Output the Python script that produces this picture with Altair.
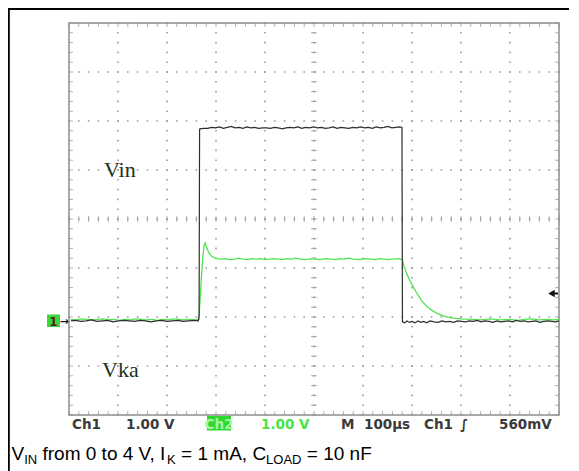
import altair as alt
import pandas as pd

# ---------------- data (time in µs, 100 µs/div; voltage in V, 1 V/div) ----------------
vin_t = [4, 14, 24, 35, 46, 57, 68, 79, 90, 101,
         112, 123, 134, 145, 156, 167, 178, 189, 200, 211,
         222, 233, 244, 255, 264, 265.5,
         266.5, 267, 275, 283, 291, 299, 307, 315, 323, 331, 339,
         347, 355, 363, 371, 379, 387, 395, 403, 411, 419,
         427, 435, 443, 451, 459, 467, 475, 483, 491, 499,
         507, 515, 523, 531, 539, 547, 555, 563, 571, 579,
         587, 595, 603, 611, 619, 627, 635, 643, 651, 659,
         667, 675, 679.5,
         680.5, 685, 690, 695, 700, 706, 712, 718, 724, 730,
         737, 745, 753, 761, 769, 777, 785, 793, 801, 809,
         817, 825, 833, 841, 849, 857, 865, 873, 881, 889,
         897, 905, 913, 921, 929, 937, 945, 953, 961, 969,
         977, 985, 993, 1000]
vin_v = [0.00, 0.01, -0.01, 0.00, 0.02, -0.01, 0.00, 0.01, -0.02, 0.00,
         0.01, 0.00, -0.01, 0.01, 0.00, -0.02, 0.00, 0.01, -0.01, 0.00,
         0.01, -0.01, 0.00, 0.01, 0.00, 0.10,
         3.90, 3.92, 3.93, 3.93, 3.95, 3.94, 3.96, 3.93, 3.95, 3.97, 3.94,
         3.95, 3.93, 3.96, 3.94, 3.95, 3.93, 3.94, 3.94, 3.93, 3.95,
         3.94, 3.92, 3.94, 3.95, 3.94, 3.96, 3.93, 3.95, 3.94, 3.96,
         3.94, 3.95, 3.93, 3.94, 3.96, 3.93, 3.95, 3.94, 3.93, 3.95,
         3.94, 3.96, 3.94, 3.95, 3.93, 3.96, 3.94, 3.95, 3.97, 3.94,
         3.95, 3.96, 3.95,
         -0.02, -0.04, 0.00, -0.03, -0.01, -0.04, 0.00, -0.03, -0.01, -0.04,
         0.00, -0.02, -0.03, 0.00, -0.02, -0.01, -0.03, 0.00, -0.01, -0.02,
         0.00, -0.01, 0.01, -0.02, 0.00, -0.01, -0.03, 0.00, -0.02, -0.01,
         0.00, -0.02, 0.01, -0.01, 0.00, -0.02, -0.01, 0.00, -0.03, -0.01,
         0.00, -0.01, -0.02, 0.00]

vka_t = [4, 15, 26, 37, 48, 59, 70, 81, 92, 103,
         114, 125, 136, 147, 158, 169, 180, 191, 202, 213,
         224, 235, 246, 257, 265,
         267, 270, 273, 276, 278, 281, 285, 290, 296, 302,
         310, 319, 328, 337, 346, 355, 364, 373, 382, 391,
         400, 409, 418, 427, 436, 445, 454, 463, 472, 481,
         490, 499, 508, 517, 526, 535, 544, 553, 562, 571,
         580, 589, 598, 607, 616, 625, 634, 643, 652, 661,
         670, 677,
         680, 684, 690, 697, 704, 712, 720, 730, 740, 752,
         765, 780, 800, 820, 840, 860, 880, 900, 915, 930,
         945, 960, 975, 990, 1000]
vka_v = [0.03, 0.02, 0.04, 0.03, 0.02, 0.03, 0.04, 0.02, 0.03, 0.01,
         0.03, 0.02, 0.04, 0.03, 0.02, 0.03, 0.01, 0.03, 0.02, 0.04,
         0.03, 0.02, 0.03, 0.02, 0.03,
         0.35, 0.85, 1.30, 1.55, 1.59, 1.50, 1.40, 1.33, 1.29, 1.27,
         1.26, 1.27, 1.25, 1.26, 1.28, 1.26, 1.25, 1.27, 1.26, 1.27,
         1.25, 1.26, 1.27, 1.26, 1.25, 1.27, 1.26, 1.28, 1.26, 1.25,
         1.26, 1.27, 1.25, 1.26, 1.27, 1.26, 1.25, 1.27, 1.26, 1.28,
         1.26, 1.25, 1.26, 1.27, 1.26, 1.25, 1.27, 1.26, 1.25, 1.26,
         1.27, 1.26,
         1.25, 1.10, 0.95, 0.80, 0.67, 0.53, 0.41, 0.30, 0.22, 0.15,
         0.10, 0.06, 0.04, 0.03, 0.02, 0.04, 0.02, 0.03, 0.01, 0.03,
         0.04, 0.02, 0.03, 0.02, 0.03]

# scope graticule: 10 x 8 divisions
x_domain = [0, 1000]
y_domain = [-1.92, 6.08]
x_grid = [100, 200, 300, 400, 500, 600, 700, 800, 900]
y_grid = [-0.92, 0.08, 1.08, 2.08, 3.08, 4.08, 5.08]
x_minor = list(range(0, 1001, 20))
y_minor = [round(-1.92 + 0.2 * k, 2) for k in range(41)]
x_center = 500
y_center = 2.08
trigger_level = 0.56

vin_df = pd.DataFrame({"t": vin_t, "v": vin_v})
vka_df = pd.DataFrame({"t": vka_t, "v": vka_v})
xg_df = pd.DataFrame({"t": x_grid})
yg_df = pd.DataFrame({"v": y_grid})
xm_df = pd.DataFrame({"t": x_minor})
ym_df = pd.DataFrame({"v": y_minor})
one = pd.DataFrame({"a": [0]})

xs = alt.Scale(domain=x_domain, nice=False, zero=False)
ys = alt.Scale(domain=y_domain, nice=False, zero=False)

GRID = "#9a9a9a"
TICKC = "#8e8e8e"

# main traces; the black one carries the (label-less) axes
vin_line = alt.Chart(vin_df).mark_line(color="#2e2e2e", strokeWidth=1.2).encode(
    x=alt.X("t:Q", scale=xs, axis=alt.Axis(labels=False, ticks=False, domain=False, grid=False, title=None)),
    y=alt.Y("v:Q", scale=ys, axis=alt.Axis(labels=False, ticks=False, domain=False, grid=False, title=None)))
vka_line = alt.Chart(vka_df).mark_line(color="#52e352", strokeWidth=1.3).encode(
    x=alt.X("t:Q", scale=xs, title=None), y=alt.Y("v:Q", scale=ys, title=None))

# dotted graticule lines
grid_v = alt.Chart(xg_df).mark_rule(color=GRID, strokeWidth=1.6, strokeDash=[1.6, 8.2]).encode(
    x=alt.X("t:Q", scale=xs, title=None), y=alt.value(-0.8), y2=alt.value(393))
grid_h = alt.Chart(yg_df).mark_rule(color=GRID, strokeWidth=1.6, strokeDash=[1.6, 8.2]).encode(
    y=alt.Y("v:Q", scale=ys, title=None), x=alt.value(-0.8), x2=alt.value(491))

def hticks(ydatum, size):
    return alt.Chart(xm_df).mark_tick(orient="vertical", size=size, thickness=1, color=TICKC).encode(
        x=alt.X("t:Q", scale=xs, title=None), y=alt.datum(ydatum))

def vticks(xdatum, size):
    return alt.Chart(ym_df).mark_tick(orient="horizontal", size=size, thickness=1, color=TICKC).encode(
        y=alt.Y("v:Q", scale=ys, title=None), x=alt.datum(xdatum))

ticks = [
    hticks(6.04, 4), hticks(-1.88, 4), hticks(y_center, 6),
    vticks(4, 4), vticks(996, 4), vticks(x_center, 6),
]

def txt(s, x, y, size, color, font="DejaVu Sans", weight="bold", align="left"):
    return alt.Chart(one).mark_text(text=s, font=font, fontSize=size, fontWeight=weight,
                                    color=color, align=align, baseline="alphabetic").encode(
        x=alt.value(x), y=alt.value(y))

# channel labels in the graticule
labels = [
    txt("Vin", 35, 154, 22, "#1e3320", font="Liberation Serif", weight="normal"),
    txt("Vka", 33, 354, 22, "#1e3320", font="Liberation Serif", weight="normal"),
]

# ground marker "1→" and trigger arrow
gnd_box = alt.Chart(one).mark_rect(color="#3ad83a").encode(
    x=alt.value(-22), x2=alt.value(-9), y=alt.value(291.5), y2=alt.value(304))
gnd_txt = [txt("1", -15.5, 302.5, 12, "#5a1c1c", align="center"),
           txt("→", -9.5, 302, 11, "#1a1a1a")]
trig_pt = alt.Chart(one).mark_point(shape="triangle-left", filled=True, color="#111111", size=55, opacity=1).encode(
    x=alt.value(482.5), y=alt.datum(trigger_level))
trig_rule = alt.Chart(one).mark_rule(color="#111111", strokeWidth=2).encode(
    x=alt.value(484), x2=alt.value(489), y=alt.datum(trigger_level))

# scope status line
DG = "#3a3a3a"
GR = "#44e444"
ch2_box = alt.Chart(one).mark_rect(color="#2fd82f").encode(
    x=alt.value(138), x2=alt.value(162), y=alt.value(393), y2=alt.value(407.5))
FS2 = 13.5
status = [
    txt("Ch1", 3, 405.5, FS2, DG),
    txt("1.00 V", 57, 405.5, FS2, DG),
    txt("Ch2", 150, 405.5, FS2, "#a8f5a8", align="center"),
    txt("1.00 V", 192, 405.5, FS2, GR),
    txt("M", 272, 405.5, FS2, DG),
    txt("100µs", 295, 405.5, FS2, DG),
    txt("Ch1", 355, 405.5, FS2, DG),
    txt("∫", 391, 405.5, FS2, DG),
    txt("560mV", 430, 405.5, FS2, DG),
]

# caption with subscripts
CAP = "#000000"
FS, SS = 19, 13
cap_y, sub_y = 437, 441
caption = [
    txt("V", -57.5, cap_y, FS, CAP, font="Liberation Sans", weight="normal"),
    txt("IN", -44.8, sub_y, SS, CAP, font="Liberation Sans", weight="normal"),
    txt("from 0 to 4 V, I", -26.5, cap_y, FS, CAP, font="Liberation Sans", weight="normal"),
    txt("K", 98.1, sub_y, SS, CAP, font="Liberation Sans", weight="normal"),
    txt("= 1 mA, C", 112.1, cap_y, FS, CAP, font="Liberation Sans", weight="normal"),
    txt("LOAD", 197.1, sub_y, SS, CAP, font="Liberation Sans", weight="normal"),
    txt("= 10 nF", 237.8, cap_y, FS, CAP, font="Liberation Sans", weight="normal"),
]

# outer frame of the figure box
frame_left = alt.Chart(one).mark_rule(color="#000000", strokeWidth=1.8).encode(
    x=alt.value(-60.1), y=alt.value(-15), y2=alt.value(460))
frame_top = alt.Chart(one).mark_rule(color="#000000", strokeWidth=2).encode(
    y=alt.value(-14), x=alt.value(-61), x2=alt.value(510))

chart = alt.layer(
    vin_line.mark_line(opacity=0), grid_v, grid_h, *ticks, vka_line,
    vin_line.encode(x=alt.X("t:Q", scale=xs, title=None), y=alt.Y("v:Q", scale=ys, title=None)),
    *labels, gnd_box, *gnd_txt, trig_pt, trig_rule, ch2_box, *status, *caption,
    frame_left, frame_top,
).properties(
    width=490, height=392,
    padding={"left": 61, "top": 15, "right": 10, "bottom": 56},
    autosize=alt.AutoSizeParams(type="none"),
).configure_view(stroke="#8c8c8c", strokeWidth=1.5)

chart.save("out.html", embed_options={"renderer": "svg", "actions": False})
